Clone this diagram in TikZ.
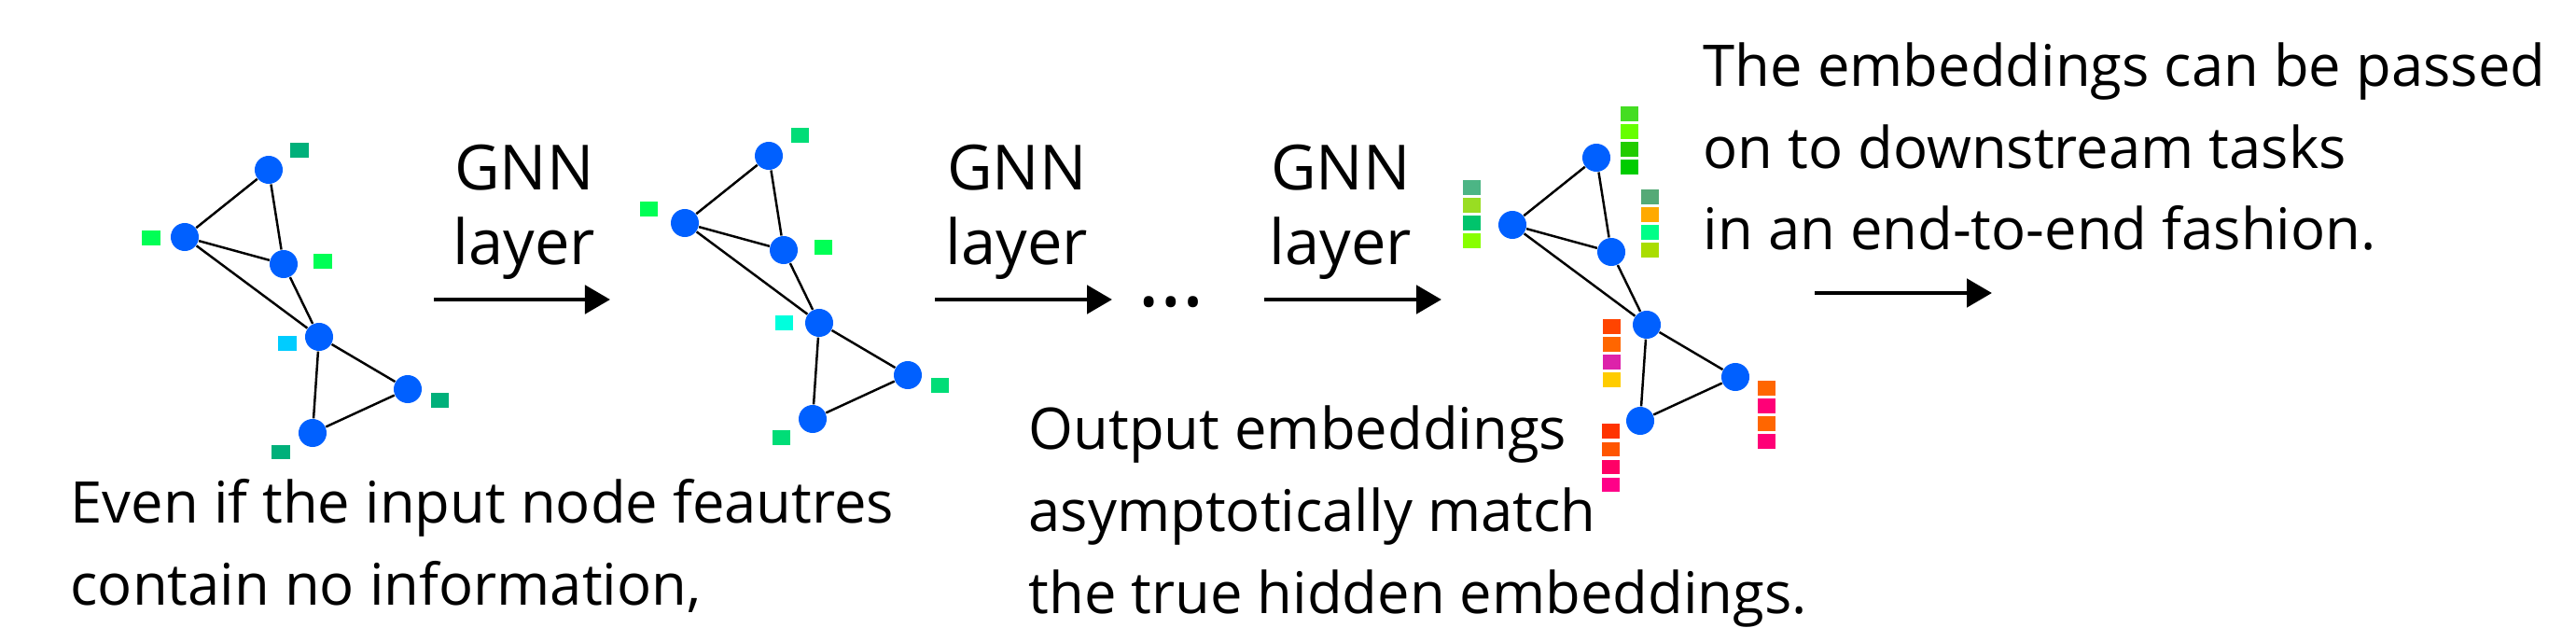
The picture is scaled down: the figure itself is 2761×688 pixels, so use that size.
\documentclass[tikz,border=0pt]{standalone}
\usepackage{fontspec}
\setmainfont{Open Sans}
\usetikzlibrary{arrows.meta,positioning}
\definecolor{nodeblue}{HTML}{0060FF}

\begin{document}
\begin{tikzpicture}[x=0.01cm,y=-0.01cm,
  vtx/.style={circle,fill=nodeblue,minimum size=0.3cm,inner sep=0pt},
  edge/.style={line width=0.7pt},
  feat/.style={rectangle,minimum width=0.19cm,minimum height=0.15cm,inner sep=0pt},
  flow/.style={line width=1.4pt,-{Triangle[length=0.27cm,width=0.3cm]}},
  lbl/.style={font=\fontsize{19pt}{22.5pt}\selectfont,align=center,anchor=base,inner sep=0pt},
  note/.style={font=\fontsize{17.5pt}{25pt}\selectfont,align=left,anchor=base west,inner sep=0pt}]
\useasboundingbox (0,0) rectangle (2761,688);
% the same graph three times
\foreach \g/\dx/\dy in {a/0/0,b/536/-15,c/1423/-13}{
  \begin{scope}[shift={(\dx,\dy)}]
    \node[vtx] (\g1) at (288,182) {};
    \node[vtx] (\g2) at (198,254) {};
    \node[vtx] (\g3) at (304,283) {};
    \node[vtx] (\g4) at (342,361) {};
    \node[vtx] (\g5) at (437,417) {};
    \node[vtx] (\g6) at (335,464) {};
    \draw[edge] (\g1) -- (\g2) -- (\g3) -- (\g1)
      (\g2) -- (\g4) -- (\g3)
      (\g4) -- (\g5) -- (\g6) -- (\g4);
  \end{scope}
}
% input features
\foreach \nm/\x/\y/\c in {a1/321/161/00B07A,a2/162/255/00FF55,a3/346/280/00FF55,
  a4/308/368/00CCFF,a5/471/429/00B07A,a6/301/484/00B07A,
  b1/857/145/00DD77,b2/695/224/00FF55,b3/882/265/00FF55,
  b4/840/346/00FFDD,b5/1007/413/00DD77,b6/837/469/00DD77}{
  \definecolor{featc}{HTML}{\c}
  \node[feat,fill=featc] (f\nm) at (\x,\y) {};
}
% output embeddings
\foreach \nm/\x/\y/\cols in {c1/1746/122/{44DD22,66FF00,22CC00,00CC00},
  c2/1577/201/{4CB585,99DD22,00C46C,88FF00},
  c3/1768/211/{55AA77,FFAA00,00FF88,AADD00},
  c4/1727/350/{FF4400,FF6600,DD22AA,FFCC00},
  c5/1893/416/{FF6600,FF0077,FF6600,FF0077},
  c6/1726/462/{FF3300,FF5500,FF0066,FF0088}}{
  \foreach \c [count=\i from 0] in \cols {
    \definecolor{featc}{HTML}{\c}
    \node[feat,fill=featc] (f\nm\i) at (\x,\y+19*\i) {};
  }
}
% layers
\node[lbl] (gnn1) at (562,283) {GNN\\layer};
\node[lbl] (gnn2) at (1090,283) {GNN\\layer};
\node[lbl] (gnn3) at (1437,283) {GNN\\layer};
\coordinate (s1) at (465,321); \coordinate (e1) at (654,321);
\coordinate (s2) at (1002,321); \coordinate (e2) at (1192,321);
\coordinate (s3) at (1355,321); \coordinate (e3) at (1545,321);
\coordinate (s4) at (1945,314); \coordinate (e4) at (2135,314);
\foreach \i in {1,...,4} \draw[flow] (s\i) -- (e\i);
\node[font=\fontsize{26pt}{26pt}\selectfont,anchor=base,inner sep=0pt] (dots) at (1255,328) {…};
% notes
\node[note] (input) at (75,648) {Even if the input node feautres\\contain no information,};
\node[note] (output) at (1102,657) {Output embeddings\\asymptotically match\\the true hidden embeddings.};
\node[note] (task) at (1825,268) {The embeddings can be passed\\on to downstream tasks\\in an end-to-end fashion.};
\end{tikzpicture}
\end{document}
